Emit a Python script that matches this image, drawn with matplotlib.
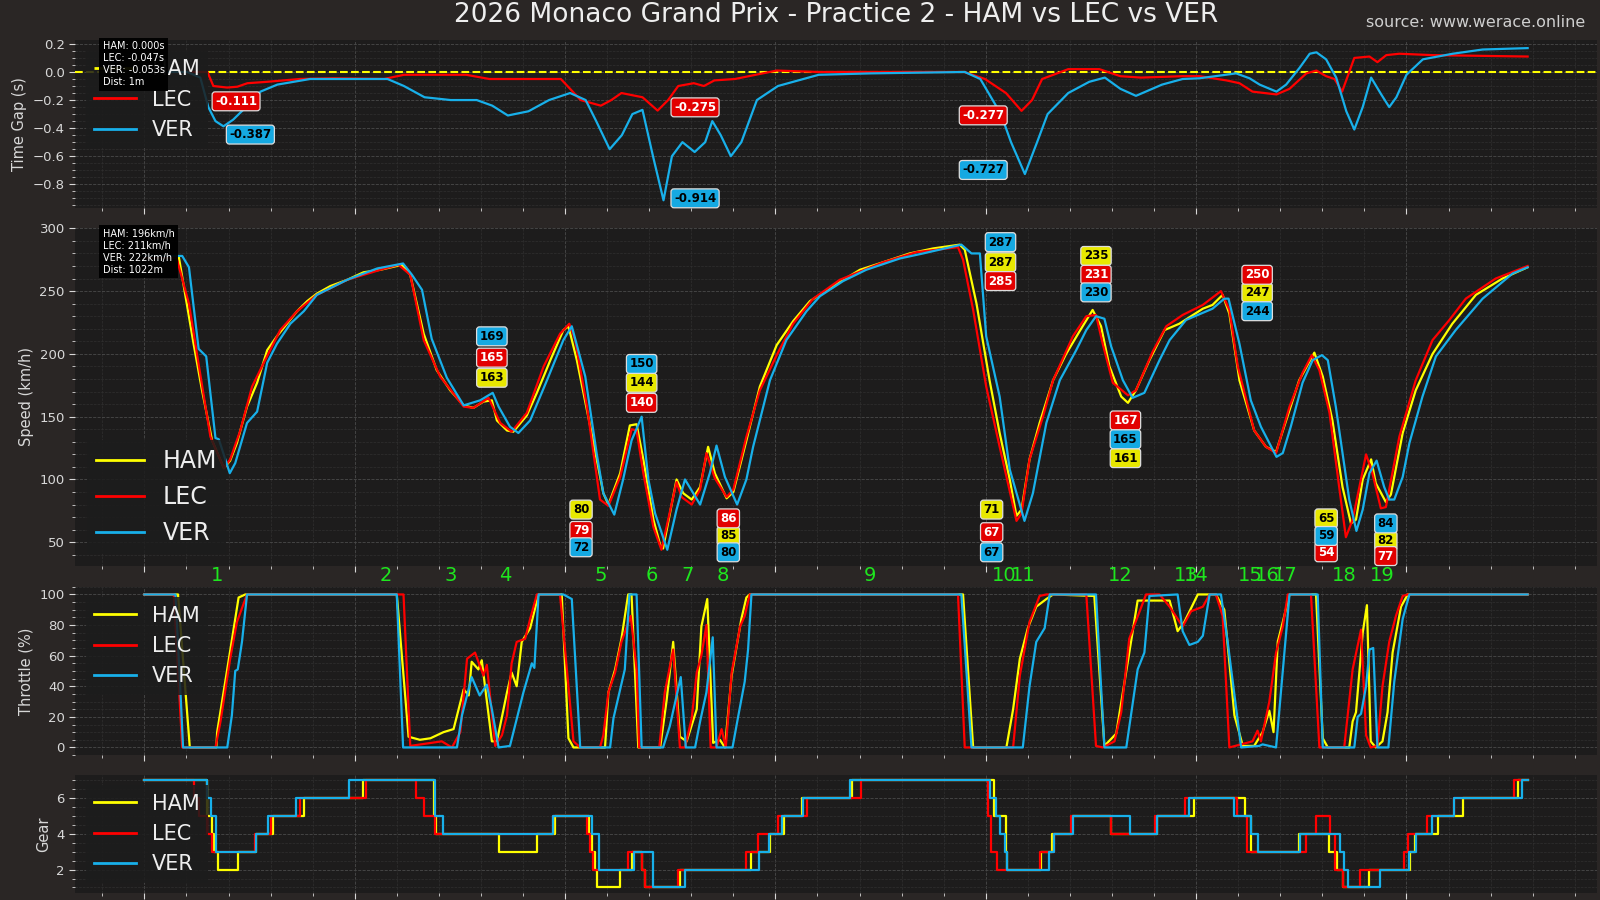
import matplotlib
matplotlib.use('Agg')
import matplotlib.pyplot as plt
import matplotlib.transforms as mtransforms
from matplotlib.ticker import MultipleLocator, AutoMinorLocator

DRIVERS = ['HAM', 'LEC', 'VER']

# speed trace, (distance m, km/h)
HAM_SPEED = [(0, 277), (82, 277), (117, 208), (137, 171), (161, 131), (189, 109), (204, 115), (220, 129),
             (244, 158), (268, 177), (292, 203), (315, 214), (339, 224), (363, 234), (387, 242), (410, 248),
             (442, 254), (482, 259), (521, 265), (561, 267), (600, 270), (612, 271), (632, 263), (664, 216),
             (695, 187), (727, 171), (759, 159), (782, 157), (806, 162), (826, 163), (838, 147), (862, 139),
             (877, 138), (909, 151), (933, 169), (965, 195), (996, 219), (1008, 222), (1028, 195), (1060, 142),
             (1091, 89), (1103, 80), (1131, 105), (1154, 143), (1170, 144), (1186, 116), (1210, 68), (1226, 48),
             (1233, 45), (1265, 100), (1281, 89), (1301, 84), (1321, 94), (1340, 126), (1356, 105), (1384, 85),
             (1400, 90), (1431, 131), (1463, 174), (1503, 207), (1542, 226), (1582, 242), (1637, 254),
             (1701, 267), (1756, 273), (1819, 280), (1875, 284), (1938, 287), (1950, 283), (1978, 240),
             (2009, 179), (2033, 137), (2057, 100), (2073, 71), (2085, 76), (2104, 116), (2128, 145),
             (2160, 179), (2191, 200), (2223, 218), (2254, 235), (2274, 222), (2294, 190), (2322, 166),
             (2338, 161), (2357, 171), (2389, 195), (2425, 219), (2460, 224), (2516, 236), (2539, 239),
             (2563, 247), (2579, 232), (2603, 179), (2638, 139), (2666, 126), (2690, 122), (2714, 147),
             (2745, 179), (2781, 201), (2801, 182), (2824, 147), (2848, 94), (2868, 65), (2880, 68),
             (2896, 100), (2916, 116), (2927, 97), (2951, 82), (2963, 88), (2991, 137), (3022, 171),
             (3062, 200), (3109, 224), (3165, 247), (3228, 260), (3288, 269)]
LEC_SPEED = [(0, 277), (76, 277), (106, 240), (125, 200), (157, 134), (189, 109), (204, 116), (228, 139),
             (256, 174), (284, 193), (323, 219), (363, 234), (410, 247), (482, 259), (561, 267), (604, 271),
             (632, 263), (664, 211), (703, 182), (759, 158), (782, 157), (818, 165), (846, 145), (873, 138),
             (909, 153), (949, 190), (988, 216), (1010, 224), (1024, 211), (1052, 158), (1083, 84), (1103, 79),
             (1131, 102), (1158, 140), (1170, 139), (1186, 105), (1210, 62), (1229, 44), (1265, 98), (1277, 86),
             (1301, 80), (1321, 92), (1336, 121), (1356, 101), (1384, 86), (1400, 92), (1431, 134), (1463, 171),
             (1503, 199), (1542, 224), (1590, 244), (1653, 259), (1756, 273), (1835, 281), (1934, 285),
             (1946, 275), (1970, 235), (2001, 174), (2033, 126), (2073, 67), (2085, 73), (2104, 116),
             (2136, 150), (2160, 179), (2207, 214), (2239, 230), (2262, 231), (2278, 208), (2302, 177),
             (2338, 167), (2357, 171), (2397, 202), (2429, 222), (2468, 231), (2516, 239), (2559, 250),
             (2579, 235), (2599, 190), (2638, 139), (2666, 126), (2690, 121), (2722, 158), (2753, 185),
             (2775, 199), (2793, 187), (2817, 153), (2840, 94), (2856, 54), (2872, 68), (2904, 120),
             (2919, 105), (2939, 77), (2951, 78), (2983, 134), (3022, 179), (3062, 211), (3102, 227),
             (3141, 244), (3212, 260), (3288, 270)]
VER_SPEED = [(0, 278), (90, 278), (106, 269), (129, 204), (147, 198), (169, 133), (177, 132), (203, 105),
             (216, 113), (244, 145), (268, 154), (292, 193), (315, 208), (347, 224), (379, 234), (410, 247),
             (482, 259), (553, 268), (615, 272), (636, 263), (660, 251), (683, 212), (719, 181), (759, 159),
             (798, 163), (828, 169), (842, 158), (869, 142), (889, 137), (917, 147), (957, 179), (996, 211),
             (1016, 222), (1048, 182), (1075, 121), (1091, 89), (1117, 72), (1138, 100), (1158, 131),
             (1182, 150), (1198, 100), (1214, 73), (1243, 44), (1265, 76), (1285, 100), (1321, 80),
             (1344, 105), (1360, 127), (1380, 102), (1409, 80), (1431, 100), (1447, 126), (1487, 179),
             (1526, 211), (1574, 234), (1606, 246), (1661, 258), (1716, 267), (1796, 276), (1851, 280),
             (1942, 287), (1966, 280), (1986, 280), (2001, 214), (2033, 166), (2057, 108), (2092, 67),
             (2112, 89), (2144, 145), (2176, 179), (2215, 203), (2239, 219), (2262, 230), (2282, 228),
             (2298, 206), (2326, 179), (2349, 165), (2377, 169), (2413, 195), (2437, 211), (2476, 227),
             (2539, 236), (2567, 244), (2577, 244), (2603, 208), (2630, 163), (2654, 142), (2674, 129),
             (2691, 118), (2706, 121), (2725, 142), (2753, 177), (2777, 195), (2799, 199), (2813, 195),
             (2832, 158), (2848, 121), (2864, 84), (2881, 59), (2896, 76), (2912, 105), (2929, 115),
             (2947, 94), (2959, 84), (2971, 84), (2991, 102), (3007, 129), (3038, 166), (3070, 198),
             (3117, 219), (3181, 244), (3252, 264), (3288, 269)]

# throttle, (distance m, %)
HAM_THROTTLE = [(0, 100), (80, 100), (108, 0), (171, 0), (173, 10), (201, 58), (224, 98), (240, 100),
                (600, 100), (628, 7), (655, 5), (680, 6), (711, 10), (735, 12), (759, 38), (771, 34), (778, 56),
                (794, 51), (802, 57), (826, 4), (838, 4), (862, 36), (873, 49), (885, 40), (897, 69), (917, 78),
                (937, 100), (992, 100), (1008, 6), (1020, 0), (1095, 0), (1103, 36), (1119, 51), (1134, 71),
                (1150, 100), (1158, 100), (1174, 0), (1226, 0), (1241, 30), (1257, 69), (1273, 7), (1289, 4),
                (1313, 25), (1324, 79), (1338, 97), (1352, 3), (1368, 5), (1380, 0), (1396, 47), (1419, 84),
                (1431, 98), (1439, 100), (1946, 100), (1970, 0), (2049, 0), (2065, 25), (2081, 58), (2100, 78),
                (2120, 92), (2144, 97), (2160, 100), (2258, 99), (2282, 1), (2310, 9), (2330, 43), (2361, 96),
                (2437, 96), (2456, 76), (2472, 82), (2504, 100), (2547, 100), (2567, 90), (2591, 21), (2611, 1),
                (2638, 1), (2658, 10), (2674, 24), (2684, 10), (2694, 69), (2706, 82), (2722, 100), (2785, 100),
                (2801, 6), (2813, 0), (2864, 0), (2872, 17), (2880, 23), (2896, 75), (2906, 93), (2915, 4),
                (2927, 0), (2943, 4), (2955, 23), (2967, 62), (2987, 92), (3003, 100), (3288, 100)]
LEC_THROTTLE = [(0, 100), (70, 100), (90, 0), (169, 0), (181, 17), (204, 58), (220, 82), (244, 100),
                (616, 100), (632, 1), (707, 4), (731, 0), (751, 10), (767, 58), (786, 62), (806, 47), (814, 54),
                (834, 1), (850, 8), (862, 21), (873, 55), (885, 69), (905, 71), (917, 84), (933, 100),
                (988, 100), (1020, 4), (1036, 0), (1083, 0), (1091, 8), (1103, 36), (1119, 49), (1134, 69),
                (1156, 86), (1170, 51), (1176, 0), (1224, 0), (1237, 36), (1257, 64), (1273, 0), (1285, 0),
                (1301, 19), (1313, 49), (1324, 60), (1336, 80), (1346, 0), (1360, 0), (1372, 12), (1382, 0),
                (1396, 49), (1416, 79), (1427, 86), (1439, 100), (1934, 100), (1950, 0), (2065, 0), (2081, 47),
                (2104, 82), (2128, 99), (2144, 100), (2239, 100), (2262, 1), (2278, 0), (2306, 4), (2322, 23),
                (2341, 71), (2381, 100), (2413, 100), (2437, 92), (2468, 79), (2488, 89), (2516, 92),
                (2532, 100), (2547, 100), (2563, 86), (2579, 0), (2634, 4), (2646, 11), (2654, 4), (2674, 30),
                (2690, 62), (2706, 79), (2718, 100), (2773, 100), (2793, 0), (2852, 0), (2872, 51), (2892, 77),
                (2904, 8), (2915, 0), (2931, 1), (2943, 40), (2959, 69), (2975, 86), (2991, 99), (3003, 100),
                (3288, 100)]
VER_THROTTLE = [(0, 100), (74, 100), (86, 35), (92, 0), (197, 0), (208, 21), (216, 50), (222, 51), (232, 69),
                (244, 100), (600, 100), (615, 0), (743, 0), (755, 21), (778, 46), (797, 34), (814, 41),
                (826, 25), (842, 0), (869, 1), (901, 36), (921, 55), (927, 52), (937, 100), (996, 100),
                (1016, 97), (1036, 0), (1107, 0), (1115, 19), (1142, 51), (1153, 100), (1170, 100), (1182, 0),
                (1233, 0), (1249, 14), (1275, 46), (1287, 0), (1309, 0), (1321, 17), (1336, 36), (1351, 72),
                (1360, 0), (1398, 0), (1412, 21), (1427, 43), (1435, 64), (1443, 100), (1942, 100), (1966, 0),
                (2088, 0), (2104, 40), (2120, 69), (2140, 78), (2152, 100), (2262, 100), (2282, 0), (2334, 0),
                (2361, 51), (2377, 62), (2389, 99), (2456, 100), (2468, 76), (2484, 67), (2504, 69), (2516, 73),
                (2532, 100), (2559, 100), (2575, 69), (2607, 0), (2650, 1), (2658, 2), (2690, 0), (2722, 100),
                (2789, 100), (2801, 0), (2876, 0), (2884, 20), (2892, 22), (2904, 40), (2912, 64), (2921, 65),
                (2931, 0), (2957, 0), (2971, 43), (2991, 84), (3007, 100), (3288, 100)]

# gear changes, (distance m, gear from there on)
HAM_GEAR = [(0, 7), (148, 5), (160, 4), (166, 3), (176, 2), (222, 3), (265, 4), (305, 5), (379, 6), (519, 7),
            (688, 5), (694, 4), (844, 3), (934, 4), (976, 5), (1056, 4), (1064, 3), (1071, 2), (1077, 1),
            (1131, 2), (1160, 3), (1184, 2), (1190, 1), (1273, 2), (1443, 3), (1486, 4), (1520, 5), (1562, 6),
            (1682, 7), (2020, 5), (2047, 3), (2051, 2), (2132, 3), (2158, 4), (2205, 5), (2298, 4), (2407, 5),
            (2496, 6), (2617, 5), (2630, 3), (2745, 4), (2817, 3), (2836, 2), (2848, 1), (2910, 2), (3008, 3),
            (3020, 4), (3074, 5), (3135, 6), (3266, 7), (3288, 7)]
LEC_GEAR = [(0, 7), (117, 6), (130, 5), (150, 4), (160, 3), (262, 4), (302, 5), (371, 6), (527, 7), (645, 6),
            (664, 5), (692, 4), (972, 5), (1052, 4), (1060, 3), (1066, 2), (1150, 3), (1184, 2), (1190, 1),
            (1269, 2), (1431, 3), (1459, 4), (1505, 5), (1574, 6), (1703, 7), (2005, 5), (2012, 3), (2027, 2),
            (2130, 3), (2162, 4), (2203, 5), (2298, 4), (2403, 5), (2473, 6), (2597, 5), (2620, 3), (2760, 4),
            (2785, 5), (2818, 4), (2830, 2), (2848, 1), (2890, 2), (2995, 3), (3003, 4), (3049, 5), (3113, 6),
            (3256, 7), (3288, 7)]
VER_GEAR = [(0, 7), (149, 6), (158, 5), (170, 3), (265, 4), (293, 5), (361, 6), (487, 7), (692, 5), (709, 4),
            (972, 5), (1065, 4), (1081, 2), (1164, 3), (1210, 1), (1284, 2), (1461, 3), (1484, 4), (1516, 5),
            (1566, 6), (1677, 7), (2009, 6), (2025, 5), (2035, 4), (2045, 3), (2051, 2), (2150, 3), (2162, 4),
            (2207, 5), (2343, 4), (2408, 5), (2483, 6), (2590, 5), (2630, 4), (2648, 3), (2747, 4), (2842, 3),
            (2852, 2), (2860, 1), (2937, 2), (3005, 3), (3022, 4), (3061, 5), (3113, 6), (3275, 7), (3288, 7)]

# time gap to HAM, (distance m, s)
LEC_GAP = [(0, 0), (150, 0), (164, -0.10), (197, -0.111), (221, -0.105), (245, -0.08), (292, -0.07),
           (370, -0.05), (450, -0.045), (570, -0.05), (617, -0.02), (765, -0.02), (820, -0.05), (990, -0.05),
           (1037, -0.2), (1085, -0.24), (1110, -0.2), (1134, -0.15), (1184, -0.18), (1220, -0.275),
           (1245, -0.2), (1269, -0.1), (1306, -0.08), (1330, -0.1), (1355, -0.06), (1404, -0.05),
           (1453, -0.02), (1503, 0.01), (1602, 0.0), (1949, 0.0), (1998, -0.05), (2048, -0.15),
           (2085, -0.277), (2110, -0.2), (2134, -0.05), (2196, 0.02), (2270, 0.02), (2320, -0.03),
           (2369, -0.04), (2468, -0.03), (2508, -0.03), (2572, -0.06), (2603, -0.08), (2634, -0.14),
           (2691, -0.16), (2722, -0.12), (2762, -0.01), (2786, 0.01), (2809, -0.03), (2829, -0.05),
           (2847, -0.14), (2876, 0.10), (2912, 0.11), (2931, 0.07), (2952, 0.12), (2983, 0.13), (3062, 0.12),
           (3288, 0.11)]
VER_GAP = [(0, 0), (102, 0), (133, -0.04), (152, -0.25), (169, -0.35), (188, -0.387), (211, -0.34),
           (245, -0.24), (276, -0.14), (316, -0.09), (394, -0.05), (578, -0.05), (617, -0.1), (666, -0.18),
           (728, -0.2), (790, -0.2), (827, -0.24), (864, -0.31), (913, -0.28), (962, -0.2), (1012, -0.15),
           (1049, -0.2), (1074, -0.35), (1106, -0.55), (1135, -0.45), (1160, -0.3), (1184, -0.27),
           (1209, -0.6), (1234, -0.914), (1254, -0.6), (1279, -0.5), (1308, -0.57), (1333, -0.5),
           (1350, -0.35), (1370, -0.45), (1394, -0.6), (1419, -0.5), (1456, -0.2), (1506, -0.1),
           (1603, -0.02), (1727, -0.01), (1950, 0.0), (1987, -0.05), (2036, -0.3), (2060, -0.5),
           (2093, -0.727), (2122, -0.5), (2147, -0.3), (2196, -0.15), (2246, -0.07), (2283, -0.04),
           (2320, -0.12), (2357, -0.17), (2419, -0.09), (2468, -0.05), (2508, -0.045), (2595, -0.01),
           (2627, -0.045), (2651, -0.09), (2691, -0.14), (2714, -0.09), (2746, 0.03), (2770, 0.13),
           (2786, 0.14), (2809, 0.09), (2833, -0.04), (2857, -0.28), (2876, -0.41), (2896, -0.25),
           (2916, -0.04), (2940, -0.16), (2959, -0.25), (2976, -0.18), (3000, -0.02), (3039, 0.09),
           (3110, 0.13), (3181, 0.16), (3288, 0.17)]

CORNER_NUMBERS = list(range(1, 20))
CORNER_DIST = [172, 574, 727, 858, 1085, 1207, 1291, 1376, 1725, 2043, 2089, 2319, 2476, 2501, 2629, 2668,
               2712, 2852, 2942]

# speed value boxes
SPEED_LABEL_D = [826, 1038, 1182, 1388, 2035, 2014, 2262, 2332, 2645, 2809, 2951]
SPEED_LABEL_VALUES = {'HAM': [163, 80, 144, 85, 287, 71, 235, 161, 247, 65, 82],
                      'LEC': [165, 79, 140, 86, 285, 67, 231, 167, 250, 54, 77],
                      'VER': [169, 72, 150, 80, 287, 67, 230, 165, 244, 59, 84]}
SPEED_LABEL_Y = {'HAM': [181, 76, 177, 55, 273, 76, 278, 117, 249, 69, 51],
                 'LEC': [197, 59, 161, 69, 258, 58, 263, 147, 263, 42, 39],
                 'VER': [214, 46, 192, 42, 289, 42, 249, 132, 234, 55, 65]}

# gap value boxes
GAP_LABEL_D = {'LEC': [218, 1309, 1994], 'VER': [252, 1309, 1994]}
GAP_LABEL_VALUES = {'LEC': [-0.111, -0.275, -0.277], 'VER': [-0.387, -0.914, -0.727]}
GAP_LABEL_Y = {'LEC': [-0.209, -0.252, -0.309], 'VER': [-0.446, -0.900, -0.698]}

LINE_COLORS = {'HAM': '#ffff00', 'LEC': '#ff0000', 'VER': '#18b0ea'}
BOX_COLORS = {'HAM': '#e8e800', 'LEC': '#e20000', 'VER': '#15a9e2'}
BOX_TEXT = {'HAM': 'black', 'LEC': 'white', 'VER': 'black'}
FIG_BG = '#2a2625'
AX_BG = '#1d1c1c'
TEXT_C = '#d8d8d8'


def unzip(pairs):
	return [p[0] for p in pairs], [p[1] for p in pairs]


def style(ax, ylabel):
	ax.set_facecolor(AX_BG)
	for s in ax.spines.values():
		s.set_visible(False)
	ax.xaxis.set_major_locator(MultipleLocator(500))
	ax.xaxis.set_minor_locator(AutoMinorLocator(5))
	ax.yaxis.set_minor_locator(AutoMinorLocator())
	ax.grid(which='major', color='#4a4a4a', ls='--', lw=0.6)
	ax.grid(which='minor', color='#303030', ls='--', lw=0.5)
	ax.set_axisbelow(True)
	ax.tick_params(which='both', colors=TEXT_C, labelsize=9.5, labelbottom=False)
	ax.tick_params(which='major', length=4)
	ax.tick_params(which='minor', length=2)
	ax.set_ylabel(ylabel, color=TEXT_C, fontsize=10.5)


def legend(ax, loc, size):
	lg = ax.legend(loc=loc, fontsize=size, facecolor='#1c1c1c', edgecolor='none', framealpha=0.85,
				   labelcolor='#eeeeee', fancybox=False)
	for line in lg.get_lines():
		line.set_linewidth(2)
	return lg


def tooltip(ax, text):
	ax.text(0.018, 0.997, text, transform=ax.transAxes, va='top', ha='left', fontsize=7, color='white',
			linespacing=1.25, zorder=20,
			bbox=dict(facecolor='black', edgecolor='none', pad=2.5, alpha=0.95))


def value_box(ax, x, y, text, drv):
	ax.text(x, y, text, ha='center', va='center', fontsize=8.5, fontweight='bold', color=BOX_TEXT[drv],
			zorder=15, bbox=dict(boxstyle='round,pad=0.25', facecolor=BOX_COLORS[drv], edgecolor='#dddddd',
								 lw=0.9))


def main():
	fig = plt.figure(figsize=(16, 9), dpi=100, facecolor=FIG_BG)
	ax_gap = fig.add_axes([0.047, 0.769, 0.951, 0.186])
	ax_spd = fig.add_axes([0.047, 0.371, 0.951, 0.376], sharex=ax_gap)
	ax_thr = fig.add_axes([0.047, 0.161, 0.951, 0.187], sharex=ax_gap)
	ax_gear = fig.add_axes([0.047, 0.008, 0.951, 0.131], sharex=ax_gap)

	speed = {'HAM': HAM_SPEED, 'LEC': LEC_SPEED, 'VER': VER_SPEED}
	throttle = {'HAM': HAM_THROTTLE, 'LEC': LEC_THROTTLE, 'VER': VER_THROTTLE}
	gear = {'HAM': HAM_GEAR, 'LEC': LEC_GEAR, 'VER': VER_GEAR}
	gap = {'LEC': LEC_GAP, 'VER': VER_GAP}

	# time gap
	ax_gap.axhline(0, color=LINE_COLORS['HAM'], ls='--', lw=1.5, label='HAM')
	for drv in ['LEC', 'VER']:
		x, y = unzip(gap[drv])
		ax_gap.plot(x, y, color=LINE_COLORS[drv], lw=1.6, label=drv)
		for d, v, yy in zip(GAP_LABEL_D[drv], GAP_LABEL_VALUES[drv], GAP_LABEL_Y[drv]):
			value_box(ax_gap, d, yy, '%.3f' % v, drv)
	ax_gap.yaxis.set_major_locator(MultipleLocator(0.2))
	style(ax_gap, 'Time Gap (s)')
	legend(ax_gap, 'upper left', 15)
	tooltip(ax_gap, 'HAM: 0.000s\nLEC: -0.047s\nVER: -0.053s\nDist: 1m')

	# speed
	for drv in DRIVERS:
		x, y = unzip(speed[drv])
		ax_spd.plot(x, y, color=LINE_COLORS[drv], lw=1.6, label=drv)
		for d, v, yy in zip(SPEED_LABEL_D, SPEED_LABEL_VALUES[drv], SPEED_LABEL_Y[drv]):
			value_box(ax_spd, d, yy, str(v), drv)
	ax_spd.set_ylim(31, 300.5)
	ax_spd.yaxis.set_major_locator(MultipleLocator(50))
	style(ax_spd, 'Speed (km/h)')
	legend(ax_spd, 'lower left', 17)
	tooltip(ax_spd, 'HAM: 196km/h\nLEC: 211km/h\nVER: 222km/h\nDist: 1022m')
	trans = mtransforms.blended_transform_factory(ax_spd.transData, ax_spd.transAxes)
	for n, d in zip(CORNER_NUMBERS, CORNER_DIST):
		ax_spd.text(d, -0.028, str(n), transform=trans, ha='center', va='center', color='#1ee61e',
					fontsize=14, clip_on=False)

	# throttle
	for drv in DRIVERS:
		x, y = unzip(throttle[drv])
		ax_thr.plot(x, y, color=LINE_COLORS[drv], lw=1.6, label=drv)
	ax_thr.yaxis.set_major_locator(MultipleLocator(20))
	style(ax_thr, 'Throttle (%)')
	legend(ax_thr, 'upper left', 15)

	# gear
	for drv in DRIVERS:
		x, y = unzip(gear[drv])
		ax_gear.plot(x, y, color=LINE_COLORS[drv], lw=1.6, drawstyle='steps-post', label=drv)
	ax_gear.yaxis.set_major_locator(MultipleLocator(2))
	style(ax_gear, 'Gear')
	legend(ax_gear, 'upper left', 15)

	fig.text(0.5225, 0.983, '2026 Monaco Grand Prix - Practice 2 - HAM vs LEC vs VER', ha='center', va='center',
			 fontsize=19, color='#eeeeee')
	fig.text(0.9905, 0.975, 'source: www.werace.online', ha='right', va='center', fontsize=11.5,
			 color='#cfcfcf')

	fig.savefig('out.png', dpi=100, facecolor=FIG_BG)


if __name__ == '__main__':
	main()
